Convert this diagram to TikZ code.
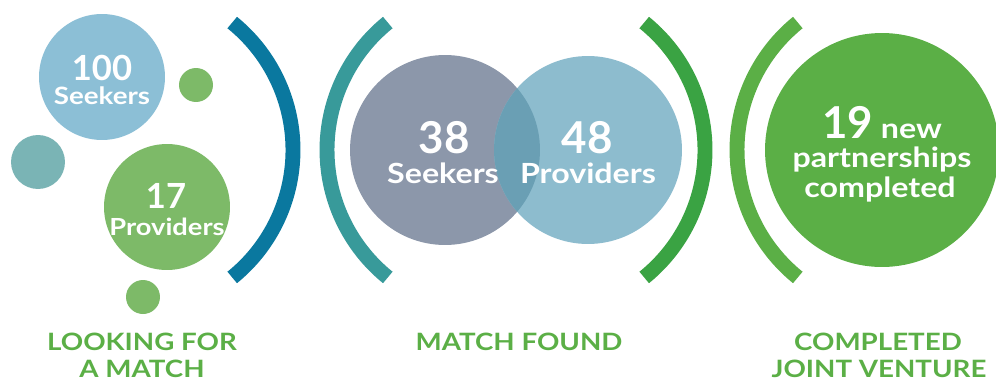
\documentclass[tikz,border=0pt]{standalone}
\usepackage{fontspec}
\setmainfont{Lato}[FakeStretch=1.16]
\newfontfamily\digitfont{Lato}
\usepackage{xcolor}
\usepackage{tikz}
\usetikzlibrary{positioning}

\definecolor{skyblue}{HTML}{8CBFD6}
\definecolor{leafgreen}{HTML}{7DBA68}
\definecolor{paleteal}{HTML}{7AB4B5}
\definecolor{deepblue}{HTML}{0A789F}
\definecolor{tealarc}{HTML}{389A9A}
\definecolor{slategray}{HTML}{8C97AA}
\definecolor{mistblue}{HTML}{8DBCCE}
\definecolor{overlapblue}{HTML}{6A9FB4}
\definecolor{grassgreen}{HTML}{3AA343}
\definecolor{freshgreen}{HTML}{5BAF46}

\begin{document}
\begin{tikzpicture}[x=0.02cm, y=-0.02cm,
  bubble/.style={circle, inner sep=0pt},
  num/.style={text=white, font=\digitfont\bfseries, anchor=base},
  word/.style={text=white, font=\bfseries, anchor=base},
  caption/.style={text=freshgreen, font=\bfseries\fontsize{13.6}{16}\selectfont, anchor=base},
  bracket/.style={line width=8.5pt}]
  \useasboundingbox (0,0) rectangle (996,382);

  % looking for a match
  \node[bubble, fill=skyblue, minimum size=2.52cm] (seekA) at (102,77) {};
  \node[bubble, fill=leafgreen, minimum size=0.68cm] (dotA) at (196,85) {};
  \node[bubble, fill=paleteal, minimum size=1.08cm] (dotB) at (38,162) {};
  \node[bubble, fill=leafgreen, minimum size=2.52cm] (provA) at (167,207) {};
  \node[bubble, fill=leafgreen, minimum size=0.68cm] (dotC) at (143,297) {};
  \node[num, font=\digitfont\bfseries\fontsize{19.7}{22}\selectfont] (nSeekA) at (102,80) {100};
  \node[word, font=\bfseries\fontsize{13.6}{16}\selectfont] (wSeekA) at (102,104) {Seekers};
  \node[num, font=\digitfont\bfseries\fontsize{19.7}{22}\selectfont] (nProvA) at (166,208) {17};
  \node[word, font=\bfseries\fontsize{13.4}{16}\selectfont] (wProvA) at (167,235) {Providers};
  \draw[bracket, deepblue] (129,150) ++(-51:164) arc[start angle=-51, end angle=51, radius=164];

  % match found
  \draw[bracket, tealarc] (491,150) ++(231:164) arc[start angle=231, end angle=129, radius=164];
  \node[bubble, fill=slategray, minimum size=3.8cm] (seekB) at (445,150) {};
  \node[bubble, fill=mistblue, minimum size=3.76cm] (provB) at (588,150) {};
  \begin{scope}
    \clip (445,150) circle[radius=1.9cm];
    \fill[overlapblue] (588,150) circle[radius=1.88cm];
  \end{scope}
  \node[num, font=\digitfont\bfseries\fontsize{25}{28}\selectfont] (nSeekB) at (444,153) {38};
  \node[word, font=\bfseries\fontsize{15.8}{18}\selectfont] (wSeekB) at (443,183) {Seekers};
  \node[num, font=\digitfont\bfseries\fontsize{25}{28}\selectfont] (nProvB) at (587,153) {48};
  \node[word, font=\bfseries\fontsize{15.8}{18}\selectfont] (wProvB) at (588,183) {Providers};
  \draw[bracket, grassgreen] (541,150) ++(-51:164) arc[start angle=-51, end angle=51, radius=164];

  % joint venture
  \draw[bracket, freshgreen] (901,150) ++(231:164) arc[start angle=231, end angle=129, radius=164];
  \node[bubble, fill=freshgreen, minimum size=4.68cm] (joint) at (882,150) {};
  \node[word, font=\bfseries\fontsize{15.8}{18}\selectfont] (wNew) at (882,138) {{\digitfont\fontsize{25}{28}\selectfont 19} new};
  \node[word, font=\bfseries\fontsize{15.8}{18}\selectfont] (wPart) at (882,167) {partnerships};
  \node[word, font=\bfseries\fontsize{15.8}{18}\selectfont] (wDone) at (880,197) {completed};

  % captions
  \node[caption] (capA1) at (142,350) {LOOKING FOR};
  \node[caption] (capA2) at (142,377) {A MATCH};
  \node[caption] (capB) at (519,350) {MATCH FOUND};
  \node[caption] (capC1) at (878,350) {COMPLETED};
  \node[caption] (capC2) at (879,377) {JOINT VENTURE};
\end{tikzpicture}
\end{document}
